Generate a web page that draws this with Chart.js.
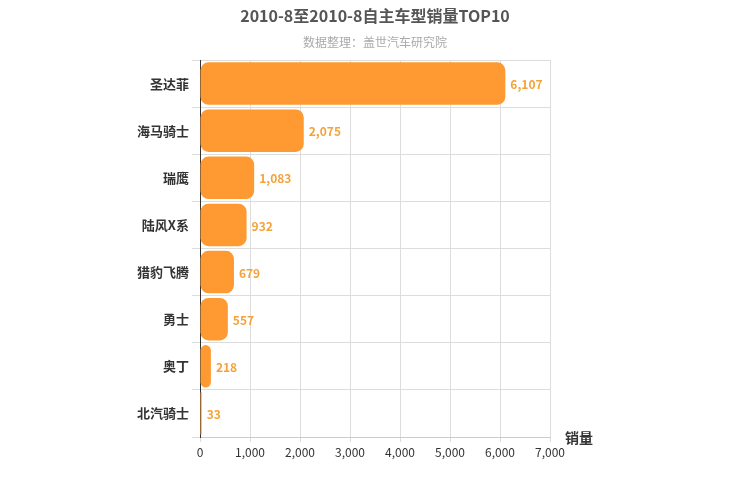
<!DOCTYPE html><html><head><meta charset="utf-8">
<script src="https://cdn.jsdelivr.net/npm/chart.js@4"></script>
<style>body{margin:0}#w{width:750px;height:500px}</style></head><body><div id="w"><canvas id="c"></canvas></div>
<script>
const categories=["圣达菲","海马骑士","瑞鹰","陆风X系","猎豹飞腾","勇士","奥丁","北汽骑士"];
const sales=[6107,2075,1083,932,679,557,218,33];
const titleText="2010-8至2010-8自主车型销量TOP10";
const subtitleText="数据整理：盖世汽车研究院";
const axisTitle="销量";
const F='"Noto Sans CJK SC","Noto Sans",sans-serif';
const deco={id:'deco',afterDraw(ch){const c=ch.ctx;c.save();c.textAlign='center';c.textBaseline='middle';
c.fillStyle='#555';c.font='bold 16px '+F;c.fillText(titleText,375,16);
c.fillStyle='#aaa';c.font='12px '+F;c.fillText(subtitleText,375,42);
c.fillStyle='#333';c.font='bold 14px '+F;c.textAlign='left';c.fillText(axisTitle,565,438);
const m=ch.getDatasetMeta(0);c.font='bold 12px '+F;c.fillStyle='#F5A23A';
m.data.forEach((b,i)=>{c.fillText(sales[i].toLocaleString('en-US'),b.x+5,b.y+1);});c.restore();}};
new Chart(document.getElementById('c'),{type:'bar',data:{labels:categories,datasets:[{data:sales,backgroundColor:'#FF9A33',borderRadius:8,borderSkipped:false,categoryPercentage:1,barPercentage:0.9}]},
options:{indexAxis:'y',responsive:true,maintainAspectRatio:false,animation:false,layout:{padding:{top:60,right:200,left:0,bottom:0}},
plugins:{legend:{display:false},tooltip:{enabled:false}},
scales:{x:{min:0,max:7000,ticks:{stepSize:1000,color:'#333',font:{size:12,family:F},callback:v=>v.toLocaleString('en-US')},grid:{color:'#ddd',drawTicks:true,tickLength:5},border:{color:'#ccc'},afterFit:s=>{s.height=63}},
y:{ticks:{color:'#333',font:{size:13,weight:'bold',family:F}},grid:{color:'#ddd',offset:true},border:{color:'#333'},afterFit:s=>{s.width=200}}}},plugins:[deco]});
</script></body></html>
